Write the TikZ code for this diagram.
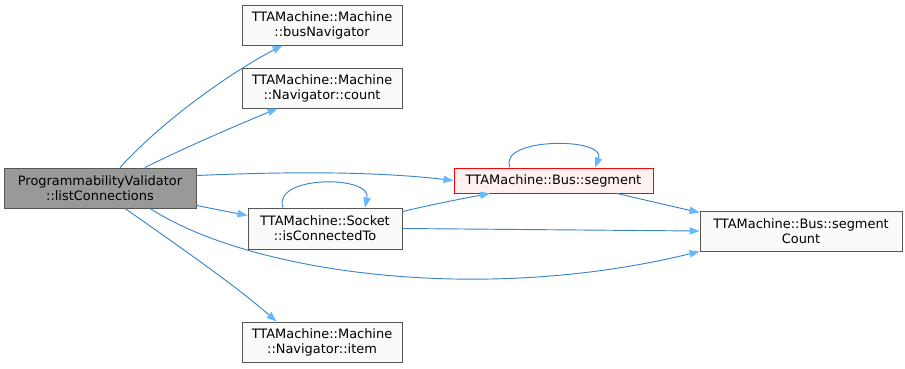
\documentclass[tikz,border=0pt]{standalone}
\usepackage{fontspec}
\setmainfont{DejaVu Sans}
\usetikzlibrary{arrows.meta,calc}
\definecolor{edgeblue}{HTML}{3A84C8}
\definecolor{tipblue}{HTML}{63B8FF}
\definecolor{boxline}{HTML}{555555}
\definecolor{boxfill}{HTML}{FAFBF9}
\definecolor{curfill}{HTML}{999999}
\definecolor{hifill}{HTML}{FFF0F0}
\begin{document}
\begin{tikzpicture}[x=0.75pt,y=-0.75pt,
  fn/.style={draw=boxline,fill=boxfill,line width=0.7pt,inner sep=0pt,
    align=center,font=\fontsize{9.7}{11.2}\selectfont,rectangle},
  call/.style={draw=edgeblue,line width=0.7pt,
    -{Triangle[length=7.5pt,width=5.5pt,color=tipblue,fill=tipblue]}}]
\useasboundingbox (0,0) rectangle (905,368);
% functions
\node[fn,fill=curfill,minimum width=144pt,minimum height=30pt] (pv) at (100,188) {ProgrammabilityValidator\\::listConnections};
\node[fn,minimum width=120pt,minimum height=30pt] (busnav) at (322,25) {TTAMachine::Machine\\::busNavigator};
\node[fn,minimum width=120pt,minimum height=30pt] (count) at (322,88) {TTAMachine::Machine\\::Navigator::count};
\node[fn,draw=red,fill=hifill,minimum width=149.25pt,minimum height=18.75pt] (seg) at (553.5,180.5) {TTAMachine::Bus::segment};
\node[fn,minimum width=115.5pt,minimum height=30.75pt] (isconn) at (325,228.5) {TTAMachine::Socket\\::isConnectedTo};
\node[fn,minimum width=151.5pt,minimum height=30pt] (segcount) at (801,231) {TTAMachine::Bus::segment\\Count};
\node[fn,minimum width=120pt,minimum height=30pt] (item) at (322,342) {TTAMachine::Machine\\::Navigator::item};
% calls
\draw[call] ($(pv.north)+(20,0)$) .. controls (165,118) and (235,70) .. ($(busnav.south west)+(41,0)$);
\draw[call] ($(pv.north)+(45,0)$) .. controls (190,145) and (245,122) .. ($(count.south west)+(36,0)$);
\draw[call] ($(pv.north east)+(0,8)$) .. controls (300,171) and (380,172) .. (seg.west);
\draw[call] ($(pv.south east)+(0,-3)$) -- ($(isconn.north west)+(0,8)$);
\draw[call] ($(pv.south)+(50,0)$) .. controls (250,273) and (480,305) .. (segcount.south west);
\draw[call] ($(pv.south)+(25,0)$) .. controls (170,240) and (235,285) .. ($(item.north west)+(35,0)$);
\draw[call] ($(seg.north)+(-43.5,0)$) .. controls (497,137) and (607,137) .. ($(seg.north)+(41.5,0)$);
\draw[call] ($(isconn.north)+(-42,0)$) .. controls (272,175) and (372,175) .. ($(isconn.north)+(40,0)$);
\draw[call] ($(isconn.north east)+(0,4)$) .. controls (430,205) and (460,199) .. ($(seg.south)+(-63.5,0)$);
\draw[call] (isconn.east) -- (segcount.west);
\draw[call] ($(seg.south)+(63.5,0)$) .. controls (645,200) and (675,207) .. ($(segcount.north west)+(0,2)$);
\end{tikzpicture}
\end{document}
